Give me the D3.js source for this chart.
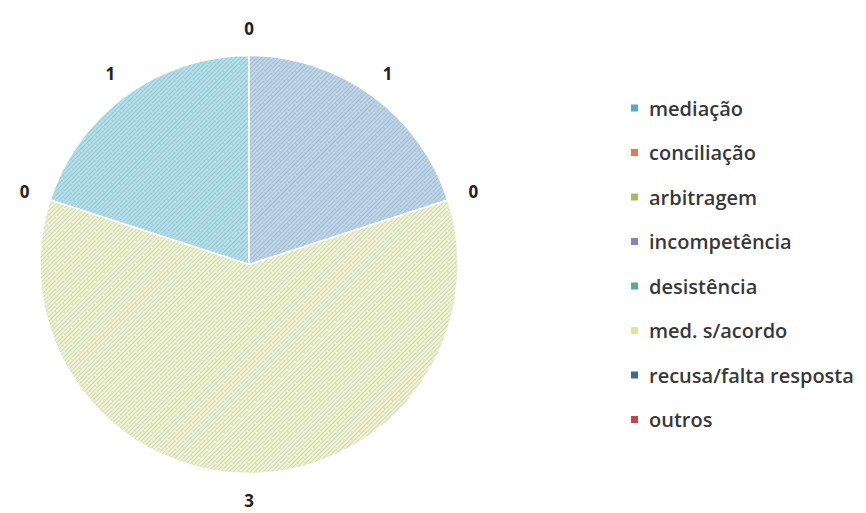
<!DOCTYPE html>
<html>
<head>
<meta charset="utf-8">
<script src="https://cdn.jsdelivr.net/npm/d3@7"></script>
<style>
  html, body { margin: 0; padding: 0; background: #fff; }
  svg { display: block; }
</style>
</head>
<body>
<svg id="chart" width="866" height="513"></svg>
<script>
// Outcome categories and counts
const categories = ["mediação", "conciliação", "arbitragem", "incompetência",
                    "desistência", "med. s/acordo", "recusa/falta resposta", "outros"];
const values = [1, 0, 0, 1, 0, 3, 0, 0];
// Legend swatch colours and lighter slice fills
const legendColors = ["#5aa8cc", "#e07a5a", "#a9b865", "#8a82b8",
                      "#58aaa4", "#e4e49a", "#3d6a8e", "#c04848"];
const sliceColors = ["#b0dfea", "#f2c2b0", "#dde6b8", "#bcd3e8",
                     "#b6e0dd", "#f0f3d0", "#a9bfd2", "#e9b4b4"];

const svg = d3.select("#chart");
const cx = 249, cy = 264.5, r = 209, labelR = 236;

// Diagonal hatch pattern per category
const defs = svg.append("defs");
categories.forEach((c, i) => {
  const p = defs.append("pattern")
    .attr("id", "hatch" + i)
    .attr("patternUnits", "userSpaceOnUse")
    .attr("width", 3).attr("height", 3)
    .attr("patternTransform", "rotate(45)");
  p.append("rect").attr("width", 3).attr("height", 3).attr("fill", sliceColors[i]);
  p.append("line").attr("x1", 0).attr("y1", 0).attr("x2", 0).attr("y2", 3)
    .attr("stroke", "#6f7f88").attr("stroke-opacity", 0.45).attr("stroke-width", 1);
});

const data = categories.map((c, i) => ({ name: c, value: values[i], idx: i }));
const pie = d3.pie().value(d => d.value).sort(null)
  .startAngle(-2 * Math.PI / 5).endAngle(2 * Math.PI - 2 * Math.PI / 5);
const arcs = pie(data);
const arc = d3.arc().innerRadius(0).outerRadius(r);
const labelArc = d3.arc().innerRadius(labelR).outerRadius(labelR);

const g = svg.append("g").attr("transform", `translate(${cx},${cy})`);
g.selectAll("path.slice")
  .data(arcs.filter(a => a.data.value > 0))
  .join("path")
  .attr("class", "slice")
  .attr("d", arc)
  .attr("fill", d => `url(#hatch${d.data.idx})`)
  .attr("stroke", "#fff")
  .attr("stroke-width", 1.5);

// Value labels (zero-valued categories share a position at their angle)
const seen = new Set();
g.selectAll("text.val")
  .data(arcs.filter(a => {
    const key = Math.round(((a.startAngle + a.endAngle) / 2) * 1000);
    if (seen.has(key)) return false;
    seen.add(key); return true;
  }))
  .join("text")
  .attr("class", "val")
  .attr("transform", d => `translate(${labelArc.centroid(d)})`)
  .attr("text-anchor", "middle")
  .attr("dominant-baseline", "central")
  .style("font-family", "'Open Sans', Lato, sans-serif")
  .style("font-weight", "bold")
  .style("font-size", "17px")
  .attr("fill", "#222")
  .text(d => d.data.value);

// Legend
const legend = svg.append("g").attr("transform", "translate(631,108)");
const rows = legend.selectAll("g.row").data(categories).join("g")
  .attr("class", "row")
  .attr("transform", (d, i) => `translate(0,${i * 44.5})`);
rows.append("rect").attr("x", 0).attr("y", -3.5).attr("width", 7).attr("height", 7)
  .attr("fill", (d, i) => legendColors[i]);
rows.append("text").attr("x", 18).attr("y", 0)
  .attr("dominant-baseline", "central")
  .style("font-family", "'Open Sans', Lato, sans-serif")
  .style("font-size", "20px")
  .style("font-weight", "600")
  .attr("fill", "#383838")
  .text(d => d);
</script>
</body>
</html>
